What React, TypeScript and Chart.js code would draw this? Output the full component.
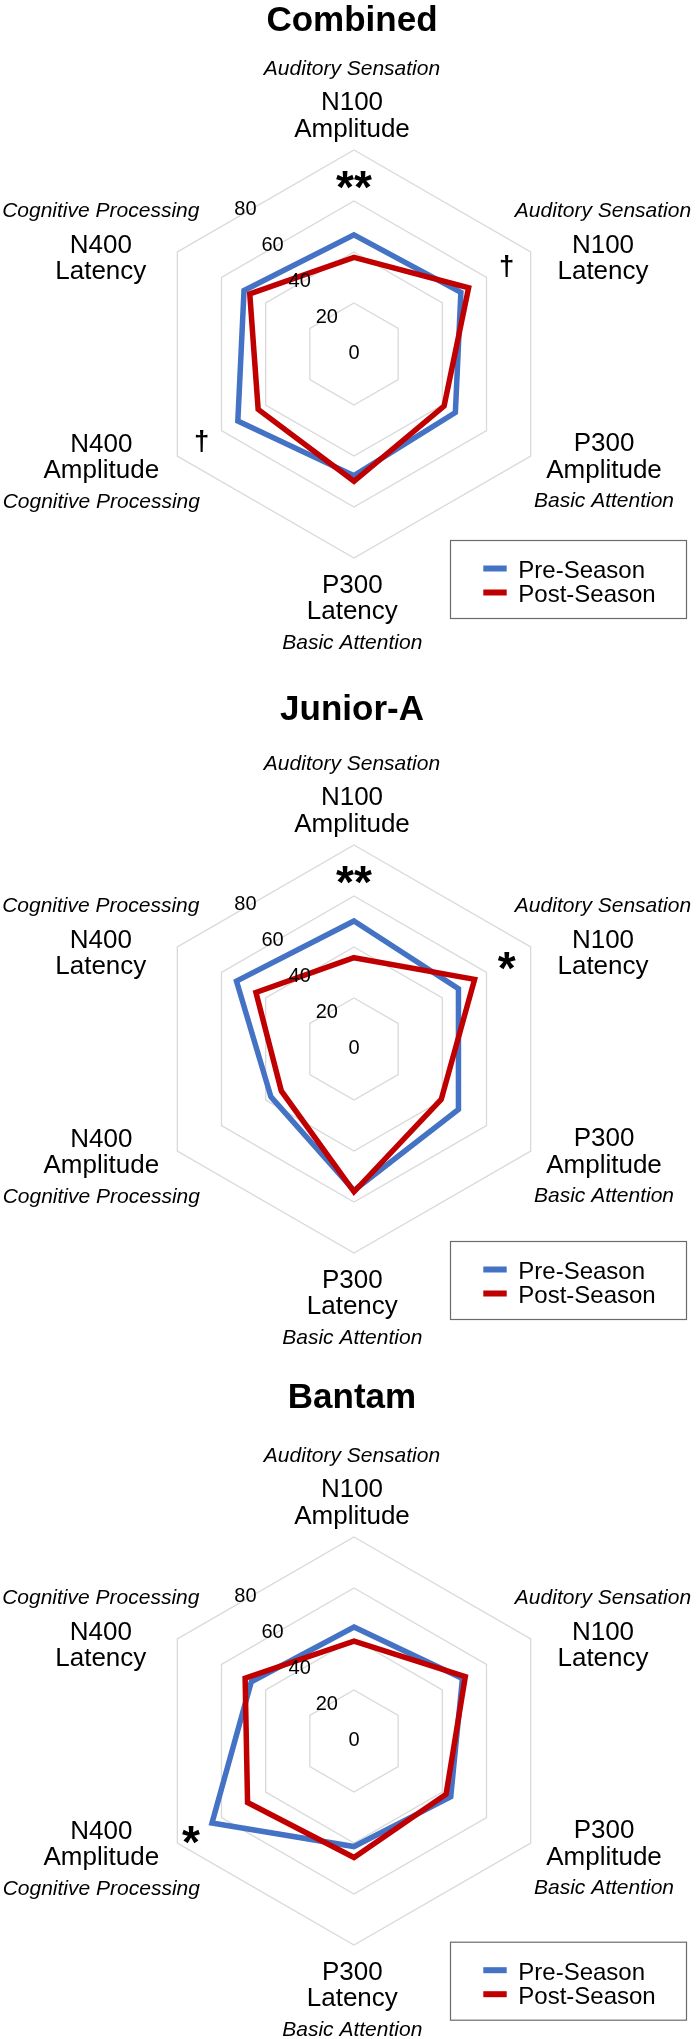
import React, { useEffect, useRef } from "react";
import { Chart, registerables } from "chart.js";

Chart.register(...registerables);

// ---------- data ----------
const categories = ["N100 Amplitude", "N100 Latency", "P300 Amplitude", "P300 Latency", "N400 Amplitude", "N400 Latency"];
const categoryLines = [
  ["N100", "Amplitude"],
  ["N100", "Latency"],
  ["P300", "Amplitude"],
  ["P300", "Latency"],
  ["N400", "Amplitude"],
  ["N400", "Latency"],
];
const domains = [
  "Auditory Sensation",
  "Auditory Sensation",
  "Basic Attention",
  "Basic Attention",
  "Cognitive Processing",
  "Cognitive Processing",
];
const seriesNames = ["Pre-Season", "Post-Season"];
const seriesColors = ["#4472C4", "#C00000"];
const tickValues = [0, 20, 40, 60, 80];
const panelTitles = ["Combined", "Junior-A", "Bantam"];

const combinedPre = [46.7, 48.4, 45.9, 47.7, 52.6, 49.8];
const combinedPost = [37.9, 51.9, 40.8, 49.9, 43.4, 47.2];
const juniorPre = [50.2, 47.3, 47.3, 55.5, 37.6, 53.2];
const juniorPost = [35.8, 54.6, 39.5, 56.0, 32.9, 44.4];
const bantamPre = [44.7, 49.1, 43.8, 41.4, 64.3, 46.5];
const bantamPost = [39.2, 50.4, 41.7, 45.7, 48.2, 49.3];

// significance markers: axis index, radial value where marker sits, text
const combinedMarks = [
  { axis: 0, value: 68.3, text: "**" },
  { axis: 1, value: 69.0, text: "†" },
  { axis: 4, value: 69.0, text: "†" },
];
const juniorMarks = [
  { axis: 0, value: 68.3, text: "**" },
  { axis: 1, value: 69.2, text: "*" },
];
const bantamMarks = [{ axis: 4, value: 73.8, text: "*" }];

const panelPre = [combinedPre, juniorPre, bantamPre];
const panelPost = [combinedPost, juniorPost, bantamPost];
const panelMarks = [combinedMarks, juniorMarks, bantamMarks];

// ---------- layout (positions / styles only) ----------
const W = 696;
const R = 204; // radius of the 80 ring in px
const panelLayout = [
  { top: 0, height: 690, centerY: 354, titleY: 18.4, legendTop: 540 },
  { top: 690, height: 685, centerY: 1049, titleY: 707.1, legendTop: 1241 },
  { top: 1375, height: 664, centerY: 1741, titleY: 1395.1, legendTop: 1941.7 },
];
const CENTER_X = 354;
// label group offsets relative to chart centre (cap-centre y of each line)
const axisLabelLayout = [
  { dx: -2, domY: -287, y1: -253, y2: -226.5 },
  { dx: 249, domY: -144.7, y1: -110.4, y2: -83.9 },
  { dx: 250, domY: 145, y1: 87.8, y2: 114.3 },
  { dx: -1.7, domY: 287.3, y1: 229.6, y2: 256.1 },
  { dx: -252.7, domY: 146, y1: 88.6, y2: 115.1 },
  { dx: -253.2, domY: -144.7, y1: -110.4, y2: -83.9 },
];
const FONT = '"Liberation Sans", Arial, Helvetica, sans-serif';

function capText(ctx: CanvasRenderingContext2D, text: string, x: number, yCap: number, size: number) {
  ctx.textBaseline = "alphabetic";
  ctx.fillText(text, x, yCap + 0.358 * size);
}

// draw text in bold, sized so its ink height equals inkH, ink-centred at (x, y)
function inkFitted(ctx: CanvasRenderingContext2D, text: string, x: number, y: number, inkH: number) {
  ctx.textAlign = "left";
  ctx.textBaseline = "alphabetic";
  ctx.font = `bold 100px ${FONT}`;
  let m = ctx.measureText(text);
  const h100 = m.actualBoundingBoxAscent + m.actualBoundingBoxDescent;
  const size = (100 * inkH) / h100;
  ctx.font = `bold ${size}px ${FONT}`;
  m = ctx.measureText(text);
  const x0 = x - (m.actualBoundingBoxRight - m.actualBoundingBoxLeft) / 2;
  const y0 = y - (m.actualBoundingBoxDescent - m.actualBoundingBoxAscent) / 2;
  ctx.fillText(text, x0, y0);
}

function makeDecor(idx: number) {
  return {
    id: "decor" + idx,
    afterDraw(chart: any) {
      const ctx: CanvasRenderingContext2D = chart.ctx;
      const scale = chart.scales.r;
      const cx = scale.xCenter;
      const cy = scale.yCenter;
      const lay = panelLayout[idx];
      ctx.save();
      ctx.fillStyle = "#000";

      // title
      ctx.font = `bold 35px ${FONT}`;
      ctx.textAlign = "center";
      capText(ctx, panelTitles[idx], 352, lay.titleY - lay.top, 35);

      // tick labels (placed along an up-left diagonal like the original)
      ctx.font = `20px ${FONT}`;
      ctx.textAlign = "center";
      tickValues.forEach((v) => {
        const d = scale.getDistanceFromCenterForValue(v);
        capText(ctx, String(v), cx - 0.532 * d, cy - 0.708 * d - 2, 20);
      });

      // category labels
      categoryLines.forEach((lines, i) => {
        const L = axisLabelLayout[i];
        const x = cx + L.dx;
        ctx.textAlign = "center";
        ctx.font = `26px ${FONT}`;
        capText(ctx, lines[0], x, cy + L.y1, 26);
        capText(ctx, lines[1], x, cy + L.y2, 26);
        ctx.font = `italic 21px ${FONT}`;
        capText(ctx, domains[i], x, cy + L.domY, 21);
      });

      // significance markers
      panelMarks[idx].forEach((mk) => {
        const p = scale.getPointPositionForValue(mk.axis, mk.value);
        inkFitted(ctx, mk.text, p.x, p.y, mk.text === "†" ? 22 : 17.5);
      });

      // legend
      const lx = 450;
      const ly = lay.legendTop - lay.top;
      ctx.strokeStyle = "#6b6b6b";
      ctx.lineWidth = 1.2;
      ctx.strokeRect(lx + 0.5, ly + 0.5, 236, 78);
      chart.data.datasets
        .slice()
        .sort((a: any, b: any) => a.legendIndex - b.legendIndex)
        .forEach((ds: any, k: number) => {
          const rowY = ly + 29.3 + k * 24;
          ctx.fillStyle = ds.borderColor;
          ctx.fillRect(lx + 33.3, rowY - 3.8, 23.4, 6);
          ctx.fillStyle = "#000";
          ctx.font = `24px ${FONT}`;
          ctx.textAlign = "left";
          capText(ctx, ds.label, lx + 68.3, rowY, 24);
        });
      ctx.restore();
    },
  };
}

function Panel({ idx }: { idx: number }) {
  const ref = useRef<HTMLCanvasElement>(null);
  const lay = panelLayout[idx];
  useEffect(() => {
    const canvas = ref.current;
    if (!canvas) return;
    const cyc = lay.centerY - lay.top;
    const chart = new Chart(canvas, {
      type: "radar",
      data: {
        labels: categories,
        datasets: [
          {
            label: seriesNames[0],
            data: panelPre[idx],
            borderColor: seriesColors[0],
            backgroundColor: "rgba(0,0,0,0)",
            order: 1,
            legendIndex: 0,
          } as any,
          {
            label: seriesNames[1],
            data: panelPost[idx],
            borderColor: seriesColors[1],
            backgroundColor: "rgba(0,0,0,0)",
            order: 0,
            legendIndex: 1,
          } as any,
        ],
      },
      options: {
        responsive: false,
        animation: false,
        devicePixelRatio: 1,
        events: [],
        layout: {
          padding: {
            left: CENTER_X - R,
            right: W - CENTER_X - R,
            top: cyc - R,
            bottom: lay.height - cyc - R,
          },
        },
        plugins: {
          legend: { display: false },
          title: { display: false },
          tooltip: { enabled: false },
        },
        elements: {
          line: { tension: 0, borderWidth: 5.5, fill: false, borderJoinStyle: "miter" },
          point: { radius: 0, hoverRadius: 0 },
        },
        scales: {
          r: {
            min: 0,
            max: 80,
            ticks: { stepSize: 20, display: false },
            grid: { color: "#d9d9d9", lineWidth: 1.3 },
            angleLines: { display: false },
            pointLabels: { display: false },
          },
        },
      } as any,
      plugins: [makeDecor(idx)],
    });
    return () => chart.destroy();
  }, [idx]);
  return (
    <canvas
      ref={ref}
      width={W}
      height={lay.height}
      style={{ position: "absolute", left: 0, top: lay.top, width: W, height: lay.height, display: "block" }}
    />
  );
}

export default function App() {
  return (
    <div style={{ position: "absolute", left: 0, top: 0, width: W, height: 2039, background: "#fff", overflow: "hidden" }}>
      {[0, 1, 2].map((i) => (
        <Panel key={i} idx={i} />
      ))}
    </div>
  );
}
